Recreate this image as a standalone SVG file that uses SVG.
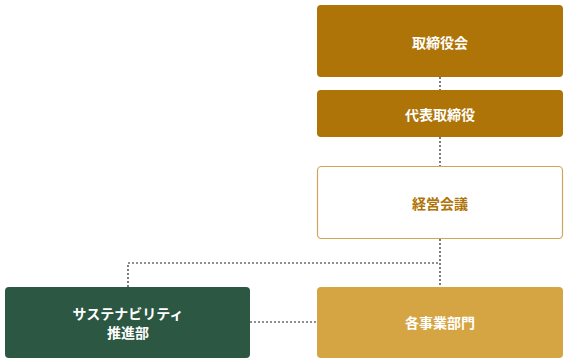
<svg xmlns="http://www.w3.org/2000/svg" width="567" height="363" viewBox="0 0 567 363">
<style>
text{font-family:"Noto Sans CJK JP","Noto Sans",sans-serif;font-size:14px;font-weight:bold;text-anchor:middle;dominant-baseline:central}
.dark rect{fill:#AE7407}
.dark text{fill:#ffffff}
.line{stroke:#222;stroke-width:1.2;stroke-dasharray:2 2;fill:none}
</style>
<rect width="567" height="363" fill="#ffffff"/>
<g id="connectors">
<path class="line" d="M440 77V90"/>
<path class="line" d="M440 137V166"/>
<path class="line" d="M440 239V287"/>
<path class="line" d="M128 287V263H440"/>
<path class="line" d="M250 322H317"/>
</g>
<g id="board" class="dark"><rect x="317" y="5" width="246" height="72" rx="4"/><text x="440" y="42">取締役会</text></g>
<g id="rep" class="dark"><rect x="317" y="90" width="246" height="47" rx="4"/><text x="440" y="114">代表取締役</text></g>
<g id="mgmt"><rect x="317.5" y="166.5" width="245" height="72" rx="4" fill="#fff" stroke="#D2A45A" stroke-width="1.2"/><text x="440" y="203" fill="#AE7407">経営会議</text></g>
<g id="sus"><rect x="5" y="287" width="245" height="71" rx="4" fill="#2B5743"/><text x="128" y="313" fill="#fff">サステナビリティ</text><text x="128" y="332" fill="#fff">推進部</text></g>
<g id="biz"><rect x="317" y="287" width="246" height="71" rx="4" fill="#D5A544"/><text x="440" y="322" fill="#fff">各事業部門</text></g>
</svg>
